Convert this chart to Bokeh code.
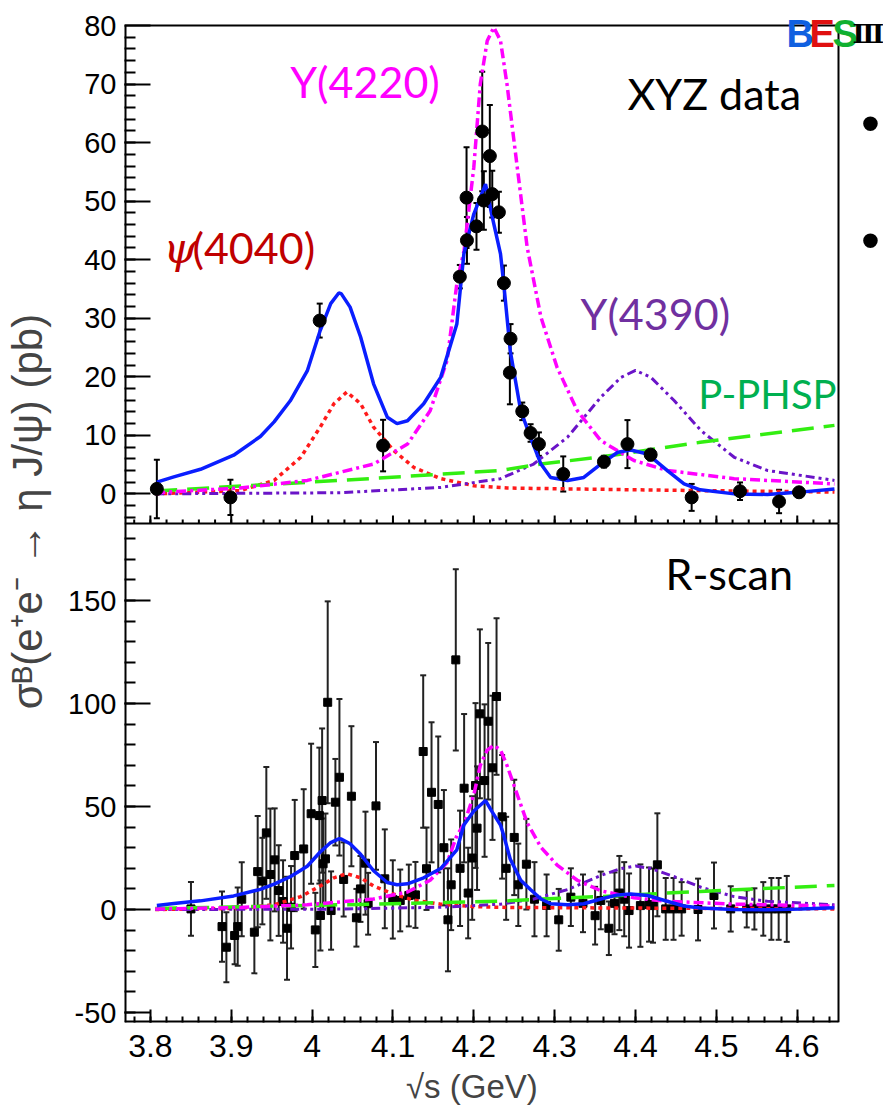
import math
from bokeh.plotting import figure
from bokeh.models import (Range1d, FixedTicker, ColumnDataSource, Whisker,
                          Label, TeeHead, CustomJSTickFormatter)
from bokeh.embed import file_html
from bokeh.resources import INLINE

# ---------------- data ----------------
# XYZ data (top panel): sqrt(s) [GeV], sigma [pb], error
xyz_e = [3.808, 3.899, 4.0094, 4.0878, 4.1827, 4.1915, 4.191, 4.2033, 4.2104, 4.2124, 4.2198,
         4.2228, 4.231, 4.2372, 4.2446, 4.2454, 4.2599, 4.2702, 4.2805, 4.3106, 4.3609, 4.390,
         4.4187, 4.4694, 4.5292, 4.5775, 4.6022]
xyz_v = [0.85, -0.6, 29.6, 8.25, 37.1, 43.3, 50.6, 45.7, 61.9, 50.1, 57.7,
         51.2, 48.1, 36.0, 20.7, 26.5, 14.1, 10.4, 8.5, 3.4, 5.5, 8.5,
         6.7, -0.6, 0.45, -1.3, 0.27]
xyz_err = [5.0, 3.0, 2.9, 4.4, 2.0, 4.0, 8.6, 4.0, 10.2, 5.0, 8.7,
           4.0, 3.5, 3.0, 5.4, 2.5, 1.5, 1.5, 2.0, 3.0, 1.0, 4.1,
           1.0, 2.3, 1.5, 2.0, 0.8]

# R-scan data (bottom panel)
rs_e = [3.8502, 3.8886, 3.894, 3.9042, 3.908, 3.913, 3.9286, 3.9327, 3.9385, 3.9434, 3.9484,
        3.9537, 3.9587, 3.9641, 3.969, 3.974, 3.9785, 3.9896, 3.9988, 4.004, 4.009, 4.0103,
        4.0124, 4.0136, 4.0165, 4.0193, 4.0235, 4.0288, 4.0338, 4.039, 4.0486, 4.0548, 4.0598,
        4.066, 4.0693, 4.079, 4.0899, 4.0998, 4.109, 4.1196, 4.1278, 4.1374, 4.1415, 4.1477,
        4.156, 4.163, 4.168, 4.172, 4.1777, 4.183, 4.188, 4.193, 4.198, 4.2021, 4.204, 4.2075,
        4.2133, 4.2178, 4.2231, 4.2281, 4.235, 4.240, 4.250, 4.255, 4.265, 4.275, 4.290, 4.305,
        4.320, 4.335, 4.350, 4.357, 4.367, 4.374, 4.380, 4.386, 4.392, 4.406, 4.4167, 4.4216,
        4.427, 4.4373, 4.447, 4.457, 4.4773, 4.497, 4.5177, 4.5375, 4.547, 4.558, 4.568, 4.577,
        4.587]
rs_v = [0.3, -8.3, -18.3, -12.6, -8.3, 5.0, -11.0, 18.4, 13.8, 37.2, 17.0,
        24.1, 9.2, 3.9, -9.1, 1.1, 26.2, 29.4, 46.5, -9.9, 45.6, -2.9,
        52.9, 22.2, 24.6, 100.6, -0.5, 52.1, 64.2, 14.6, 55.0, -4.0, 10.0,
        22.5, 2.8, 50.3, 14.9, 4.9, 4.4, 6.8, 7.1, 76.7, 19.8, 56.9,
        51.0, 30.0, -5.0, 12.0, 121.2, 20.0, 58.9, 8.0, 25.0, 60.2, 39.5, 95.0,
        62.6, 91.4, 68.8, 103.4, 45.0, 20.0, 35.0, 12.0, 22.0, 5.0, 2.0, -5.0,
        6.0, 3.0, -3.0, 4.4, -9.1, 3.0, 8.0, 5.0, -0.5, 1.9, 2.4, 1.9,
        21.7, 0.3, 0.3, 0.3, 0.0, 6.8, 0.3, 0.3, 0.3, 0.3, 0.3, 0.3,
        0.3]
rs_err = [13, 17, 17, 14, 19, 18, 20, 27, 21, 32, 32,
          25, 22, 20, 25, 20, 27, 29, 34, 18, 33, 17,
          35, 22, 22, 49, 19, 21, 38, 18, 34, 14, 16,
          25, 15, 31, 24, 19, 15, 15, 16, 37, 20, 34,
          33, 28, 25, 22, 44, 28, 36, 22, 30, 40, 30, 41,
          37, 38, 35, 38, 30, 25, 28, 20, 22, 18, 15, 15,
          14, 14, 14, 14, 13, 15, 18, 18, 18, 20, 18, 18,
          25, 15, 15, 13, 15, 16, 11, 9, 10, 13, 15, 15,
          16]

# fit curves, values in pb
tot_e = [3.808, 3.829, 3.862, 3.903, 3.936, 3.953, 3.973, 3.994, 4.010, 4.023, 4.033, 4.036,
         4.047, 4.060, 4.076, 4.093, 4.105, 4.118, 4.138, 4.159, 4.179, 4.1877, 4.200, 4.2145,
         4.2225, 4.233, 4.237, 4.245, 4.258, 4.270, 4.283, 4.295, 4.316, 4.336, 4.357, 4.378,
         4.394, 4.415, 4.439, 4.460, 4.480, 4.522, 4.563, 4.604, 4.646]
tot_v = [2.0, 2.9, 4.2, 6.6, 9.8, 12.3, 15.9, 21.0, 27.9, 32.5, 34.3, 34.2,
         31.9, 26.8, 18.8, 13.1, 12.0, 12.5, 15.4, 19.9, 29.0, 41.0, 47.8, 52.9,
         47.5, 41.0, 35.9, 24.5, 14.2, 9.7, 5.1, 2.8, 2.3, 2.8, 5.1, 7.1,
         7.5, 6.8, 4.0, 1.7, 0.7, 0.0, -0.1, 0.3, 0.85]

psi_e = [3.806, 3.911, 3.953, 3.986, 4.010, 4.027, 4.043, 4.060, 4.076, 4.101, 4.126, 4.159,
         4.200, 4.241, 4.316, 4.480, 4.646]
psi_v = [0.0, 0.56, 2.3, 6.25, 11.4, 15.4, 17.4, 15.4, 11.4, 7.4, 4.5, 2.6,
         1.4, 1.0, 0.85, 0.56, 0.3]

y4220_e = [3.806, 3.911, 3.994, 4.076, 4.118, 4.146, 4.167, 4.179, 4.188, 4.200, 4.208, 4.2166,
           4.2248, 4.233, 4.241, 4.2537, 4.266, 4.283, 4.303, 4.328, 4.357, 4.398, 4.439, 4.522,
           4.646]
y4220_v = [0.2, 1.0, 2.3, 5.1, 8.5, 14.2, 22.8, 35.9, 41.6, 55.8, 70.0, 77.4,
           79.7, 77.4, 70.0, 55.8, 42.1, 30.2, 21.6, 14.2, 9.1, 5.7, 4.0, 2.6,
           1.7]

y4390_e = [3.806, 4.035, 4.159, 4.233, 4.274, 4.316, 4.357, 4.382, 4.400, 4.419, 4.448, 4.481,
           4.522, 4.563, 4.646]
y4390_v = [0.0, 0.2, 1.1, 2.6, 5.1, 9.7, 16.5, 19.9, 21.1, 19.9, 15.9, 10.8,
           6.25, 4.0, 2.3]

phsp_e = [3.806, 4.035, 4.233, 4.283, 4.357, 4.480, 4.646]
phsp_v = [0.5, 2.3, 4.0, 5.1, 6.3, 8.8, 11.7]

# ticks
x_major = [3.8, 3.9, 4.0, 4.1, 4.2, 4.3, 4.4, 4.5, 4.6]
x_minor = [round(3.78 + 0.02 * i, 2) for i in range(44)]
top_major = [0, 10, 20, 30, 40, 50, 60, 70, 80]
top_minor = list(range(-4, 80, 2))
bot_major = [-50, 0, 50, 100, 150]
bot_minor = list(range(-50, 190, 10))

# ---------------- layout (pixels of the page) ----------------
W, H = 883, 1120
FRAME_L, PANEL_R, PANEL_T, SEP_Y, FRAME_B = 124, 838, 25, 523, 1022
X_START, X_END = 3.768, 4.651
TOP_LO, TOP_HI = -5.06, 80.0
BOT_LO, BOT_HI = -54.85, 187.4

s_x = (PANEL_R - FRAME_L) / (X_END - X_START)
s_top = (SEP_Y - PANEL_T) / (TOP_HI - TOP_LO)
s_bot = (FRAME_B - SEP_Y) / (BOT_HI - BOT_LO)
x_full_end = X_START + (W - FRAME_L) / s_x
top_start = TOP_LO - (FRAME_B - SEP_Y) / s_top
top_end = TOP_HI + PANEL_T / s_top
bot_end = BOT_HI + SEP_Y / s_bot
A = s_top / s_bot                  # top-panel units -> main axis units
B = BOT_LO - A * top_start

FONT = "Liberation Sans"
ANN = "Lato"

p = figure(width=W, height=H, output_backend="svg", toolbar_location=None,
           x_range=Range1d(X_START, x_full_end), y_range=Range1d(BOT_LO, bot_end),
           min_border_left=FRAME_L, min_border_right=0, min_border_top=0,
           min_border_bottom=H - FRAME_B)
p.extra_y_ranges = {"top": Range1d(top_start, top_end)}
p.grid.visible = False
p.outline_line_color = None
p.background_fill_color = "white"
p.border_fill_color = "white"

# x axis
xa = p.xaxis[0]
xa.ticker = FixedTicker(ticks=x_major, minor_ticks=x_minor)
xa.formatter = CustomJSTickFormatter(code="return String(Math.round(tick*10)/10);")
xa.major_tick_in = 13
xa.major_tick_out = 0
xa.minor_tick_in = 6
xa.minor_tick_out = 0
xa.major_tick_line_width = 2
xa.minor_tick_line_width = 2
xa.axis_line_color = None
xa.major_label_standoff = 12
xa.major_label_text_font = FONT
xa.major_label_text_font_size = "32px"
xa.major_label_text_color = "black"
xa.axis_label = "√s (GeV)" + "\u00a0" * 7
xa.axis_label_text_font = FONT
xa.axis_label_text_font_size = "33px"
xa.axis_label_text_font_style = "normal"
xa.axis_label_standoff = 8

# y axis: one axis carries the ticks of both panels and the common title
ya = p.yaxis[0]
ya.ticker = FixedTicker(ticks=bot_major + [A * t + B for t in top_major],
                        minor_ticks=bot_minor + [A * t + B for t in top_minor])
ya.formatter = CustomJSTickFormatter(
    args=dict(a=A, b=B, sep=BOT_HI),
    code="if (tick > sep) { return String(Math.round((tick - b) / a)); } return String(Math.round(tick));")
ya.major_tick_in = 26
ya.major_tick_out = 0
ya.minor_tick_in = 11
ya.minor_tick_out = 0
ya.major_tick_line_width = 2
ya.minor_tick_line_width = 2
ya.axis_line_color = None
ya.major_label_standoff = 8
ya.major_label_text_font = FONT
ya.major_label_text_font_size = "29px"
ya.major_label_text_color = "black"
ya.axis_label = "σᴮ(e⁺e⁻ → η J/ψ) (pb)"
ya.axis_label_text_font = FONT
ya.axis_label_text_font_size = "42px"
ya.axis_label_text_font_style = "normal"
ya.axis_label_standoff = 14

# panel frames
FR = dict(line_color="black")
p.segment(x0=[X_START], y0=[BOT_LO], x1=[X_START], y1=[A * TOP_HI + B], line_width=4, **FR)
p.segment(x0=[X_START], y0=[BOT_LO], x1=[X_END], y1=[BOT_LO], line_width=4, **FR)
p.segment(x0=[X_END], y0=[BOT_LO], x1=[X_END], y1=[BOT_HI], line_width=2, **FR)
p.segment(x0=[X_END, X_START, X_START], y0=[TOP_LO, TOP_HI, TOP_LO],
          x1=[X_END, X_END, X_END], y1=[TOP_HI, TOP_HI, TOP_LO],
          line_width=2, y_range_name="top", **FR)
# upward x ticks on the separator
p.ray(x=x_major, y=[TOP_LO] * len(x_major), length=8, length_units="screen", angle=math.pi / 2,
      line_color="black", line_width=2, y_range_name="top")
p.ray(x=x_minor, y=[TOP_LO] * len(x_minor), length=4, length_units="screen", angle=math.pi / 2,
      line_color="black", line_width=2, y_range_name="top")

# curve styles
styles = [
    (psi_e, psi_v, dict(line_color="#ff1a1a", line_width=3.5, line_dash="4 4")),
    (y4390_e, y4390_v, dict(line_color="#6a14c8", line_width=3, line_dash="9 4 3 4 3 4")),
    (phsp_e, phsp_v, dict(line_color="#33ee11", line_width=3.5, line_dash="22 10")),
    (y4220_e, y4220_v, dict(line_color="#ff00ff", line_width=3.5, line_dash="10 4 3 4")),
    (tot_e, tot_v, dict(line_color="#0a1eff", line_width=3.5)),
]

# ---- top panel ----
for xs, ys, st in styles:
    p.line(xs, ys, y_range_name="top", **st)

top_src = ColumnDataSource(dict(x=xyz_e, y=xyz_v,
                                lo=[v - e for v, e in zip(xyz_v, xyz_err)],
                                hi=[v + e for v, e in zip(xyz_v, xyz_err)]))
p.add_layout(Whisker(source=top_src, base="x", lower="lo", upper="hi", y_range_name="top",
                     line_color="black", line_width=2,
                     lower_head=TeeHead(size=6, line_width=2, line_color="black"),
                     upper_head=TeeHead(size=6, line_width=2, line_color="black")))
p.scatter("x", "y", source=top_src, marker="circle", size=13, color="black", y_range_name="top")

# ---- bottom panel ----
bot_src = ColumnDataSource(dict(x=rs_e, y=rs_v,
                                lo=[v - e for v, e in zip(rs_v, rs_err)],
                                hi=[v + e for v, e in zip(rs_v, rs_err)]))
p.add_layout(Whisker(source=bot_src, base="x", lower="lo", upper="hi",
                     line_color="#222222", line_width=2, level="underlay",
                     lower_head=TeeHead(size=6, line_width=2, line_color="#222222"),
                     upper_head=TeeHead(size=6, line_width=2, line_color="#222222")))
p.scatter("x", "y", source=bot_src, marker="square", size=8, color="black")
for xs, ys, st in styles:
    p.line(xs, ys, **st)

# ---- annotations ----
def lab(x, y, text, color, size="43px", rng="top", font=ANN, style="normal", **kw):
    kwargs = dict(x=x, y=y, text=text, text_color=color, text_font=font,
                  text_font_size=size, text_font_style=style, text_baseline="alphabetic")
    if rng == "top":
        kwargs["y_range_name"] = "top"
    kwargs.update(kw)
    p.add_layout(Label(**kwargs))

lab(3.973, 70.5, "Y(4220)", "#ff00ff")
lab(4.390, 68.3, "XYZ data", "black")
lab(3.816, 42.0, "ψ", "#c00000", font="DejaVu Serif", style="italic")
lab(3.852, 42.0, "(4040)", "#c00000")
lab(4.332, 30.8, "Y(4390)", "#7030a0")
lab(4.4777, 17.1, "P-PHSP", "#00b050", size="40px")
lab(4.437, 163.0, "R-scan", "black", rng="bot")

# BESIII logo and slide bullets (screen units, from the frame's lower-left corner)
def slab(px, py, text, color, size, font=FONT, style="bold", **kw):
    kwargs = dict(x=px - FRAME_L, y=FRAME_B - py, x_units="screen", y_units="screen",
                  text=text, text_color=color, text_font=font, text_font_size=size,
                  text_font_style=style, text_baseline="alphabetic", level="overlay")
    kwargs.update(kw)
    p.add_layout(Label(**kwargs))

slab(786, 33, "B", "#1060e0", "38px")
slab(809, 33, "E", "#e01010", "38px")
slab(832, 33, "S", "#10b030", "38px")
slab(852, 33, "Ⅲ", "black", "26px", font="DejaVu Serif")
slab(870, 122, "•", "black", "54px", style="normal", text_align="center", text_baseline="middle")
slab(870, 239, "•", "black", "54px", style="normal", text_align="center", text_baseline="middle")

open("out.html", "w").write(file_html(p, INLINE))
